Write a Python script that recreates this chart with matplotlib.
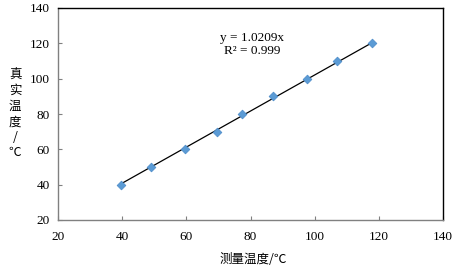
import numpy as np
import matplotlib.pyplot as plt

# measured vs real temperature
measured = [39.5, 49, 59.5, 69.5, 77.5, 87, 97.5, 107, 118]
real = [40, 50, 60, 70, 80, 90, 100, 110, 120]
slope = 1.0209
x_ticks = [20, 40, 60, 80, 100, 120, 140]
y_ticks = [20, 40, 60, 80, 100, 120, 140]

serif = ['Liberation Serif', 'DejaVu Serif']
cjk = ['Noto Sans CJK SC', 'DejaVu Sans']

fig = plt.figure(figsize=(4.61, 2.67), dpi=100)
ax = fig.add_axes([58 / 461, 1 - 220 / 267, 385 / 461, 212 / 267])

# trend line through origin, drawn over the data range
xs = np.array([measured[0], measured[-1]])
ax.plot(xs, slope * xs, color='black', lw=0.9, zorder=2)
ax.scatter(measured, real, marker='D', s=20, color='#5B9BD5',
           edgecolors='#4A8AC8', linewidths=0.5, zorder=3)

ax.text(80.5, 119.5, 'y = 1.0209x\nR² = 0.999', ha='center', va='center',
        fontsize=9.5, family=serif, linespacing=1.15)

ax.set_xlim(20, 140)
ax.set_ylim(20, 140)
ax.set_xticks(x_ticks)
ax.set_yticks(y_ticks)
for lab in ax.get_xticklabels() + ax.get_yticklabels():
    lab.set_family(serif)
    lab.set_fontsize(9.5)
ax.tick_params(direction='in', length=3, width=0.8, color='#808080')
ax.tick_params(axis='x', pad=8)
ax.tick_params(axis='y', pad=6)

ax.spines['left'].set_color('#808080')
ax.spines['bottom'].set_color('#808080')
ax.spines['top'].set_color('black')
ax.spines['right'].set_color('black')
for s in ax.spines.values():
    s.set_linewidth(1.0)

fig.text(253 / 461, 1 - 259 / 267, '测量温度/℃', ha='center', va='center',
         fontsize=9, family=cjk)
fig.text(15 / 461, 1 - 114 / 267, '真\n实\n温\n度\n/\n℃', ha='center', va='center',
         fontsize=9, family=cjk, linespacing=1.25)

fig.savefig('out.png', dpi=100)
